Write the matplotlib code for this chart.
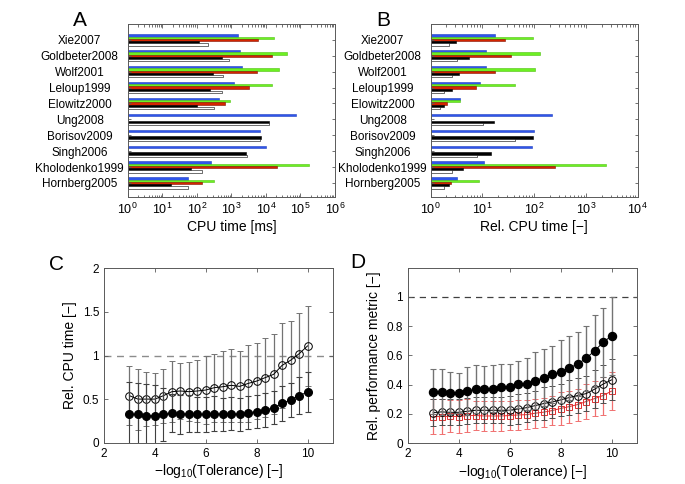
import numpy as np
import matplotlib
matplotlib.use('Agg')
import matplotlib.pyplot as plt
from matplotlib.ticker import LogLocator, NullFormatter

plt.rcParams['font.family'] = ['Liberation Sans', 'DejaVu Sans']
plt.rcParams['mathtext.fontset'] = 'custom'
plt.rcParams['mathtext.rm'] = 'Liberation Sans'
plt.rcParams['mathtext.it'] = 'Liberation Sans:italic'
plt.rcParams['mathtext.default'] = 'regular'

# ---------------- data ----------------
categories = ['Xie2007', 'Goldbeter2008', 'Wolf2001', 'Leloup1999', 'Elowitz2000',
              'Ung2008', 'Borisov2009', 'Singh2006', 'Kholodenko1999', 'Hornberg2005']

cpu_blue = [1520, 1780, 2080, 1220, 439, 76000, 6600, 10300, 263, 57]
cpu_green = [17200, 40000, 24400, 14700, 895, 1, 1, 1, 173000, 309]
cpu_red = [6000, 15400, 5500, 3170, 643, 1, 1, 1, 20500, 144]
cpu_black = [115, 525, 295, 236, 103, 12500, 7350, 2660, 68, 18]
cpu_white = [215, 870, 562, 550, 309, 12000, 6740, 2830, 144, 55]

rel_blue = [17.3, 11.9, 11.7, 8.97, 3.73, 218, 98, 89.5, 10.6, 3.18]
rel_green = [93.5, 131, 102, 42, 3.73, 1, 1, 1, 2410, 8.58]
rel_red = [27, 35.2, 17.3, 7.4, 2.1, 1, 1, 1, 252, 2.43]
rel_black = [3.04, 5.5, 3.48, 2.62, 1.78, 16.7, 93.5, 14.6, 4.27, 2.23]
rel_white = [2.23, 3.18, 2.55, 1.83, 1.53, 10.4, 42, 7.74, 2.55, 1.83]

tol = [3.0, 3.333, 3.667, 4.0, 4.333, 4.667, 5.0, 5.333, 5.667, 6.0, 6.333,
       6.667, 7.0, 7.333, 7.667, 8.0, 8.333, 8.667, 9.0, 9.333, 9.667, 10.0]

c_open = [0.539, 0.50, 0.50, 0.50, 0.539, 0.585, 0.593, 0.585, 0.593, 0.604, 0.631,
          0.642, 0.658, 0.646, 0.68, 0.707, 0.746, 0.784, 0.887, 0.945, 1.02, 1.11]
c_open_err = [0.34, 0.35, 0.31, 0.30, 0.31, 0.35, 0.32, 0.34, 0.355, 0.39, 0.39,
              0.41, 0.42, 0.41, 0.44, 0.44, 0.45, 0.46, 0.49, 0.45, 0.47, 0.46]
c_fill = [0.325, 0.325, 0.31, 0.31, 0.325, 0.337, 0.325, 0.333, 0.325, 0.325, 0.333,
          0.325, 0.333, 0.325, 0.344, 0.356, 0.375, 0.40, 0.45, 0.49, 0.54, 0.58]
c_fill_err = [0.37, 0.36, 0.36, 0.35, 0.30, 0.22, 0.22, 0.21, 0.20, 0.20, 0.20,
              0.19, 0.19, 0.19, 0.19, 0.19, 0.19, 0.19, 0.20, 0.20, 0.21, 0.23]

d_fill = [0.352, 0.348, 0.341, 0.341, 0.355, 0.368, 0.368, 0.373, 0.38, 0.384, 0.403,
          0.405, 0.426, 0.448, 0.469, 0.487, 0.513, 0.540, 0.579, 0.631, 0.688, 0.734]
d_fill_err = [0.154, 0.158, 0.144, 0.137, 0.162, 0.163, 0.160, 0.162, 0.160, 0.159, 0.160,
              0.178, 0.194, 0.196, 0.197, 0.215, 0.220, 0.217, 0.222, 0.247, 0.236, 0.266]
d_open = [0.208, 0.213, 0.210, 0.210, 0.217, 0.224, 0.224, 0.224, 0.224, 0.224, 0.233,
          0.242, 0.256, 0.270, 0.281, 0.295, 0.311, 0.325, 0.338, 0.368, 0.403, 0.432]
d_open_err = [0.09, 0.09, 0.09, 0.09, 0.09, 0.09, 0.09, 0.09, 0.09, 0.10, 0.10,
              0.10, 0.10, 0.11, 0.11, 0.11, 0.12, 0.12, 0.12, 0.13, 0.13, 0.14]
d_red = [0.181, 0.181, 0.183, 0.181, 0.188, 0.188, 0.185, 0.185, 0.185, 0.188, 0.192,
         0.194, 0.204, 0.211, 0.222, 0.236, 0.249, 0.263, 0.284, 0.304, 0.325, 0.355]
d_red_err = [0.12, 0.12, 0.11, 0.11, 0.11, 0.10, 0.10, 0.10, 0.10, 0.10, 0.10,
             0.10, 0.10, 0.10, 0.10, 0.11, 0.11, 0.11, 0.12, 0.12, 0.13, 0.13]

bar_colors = ['#2f55ea', '#6cf022', '#d62400', '#000000', '#ffffff']
bar_edges = ['#2040c0', '#50c010', '#801000', '#000000', '#000000']

# ---------------- figure ----------------
fig = plt.figure(figsize=(6.85, 4.84), dpi=100)
W, H = 685.0, 484.0

def ax_px(l, t, r, b):
    return fig.add_axes([l / W, 1 - b / H, (r - l) / W, (b - t) / H])

axA = ax_px(127.7, 24, 335, 197.3)
axB = ax_px(430.7, 24, 637.7, 197.3)
axC = ax_px(104, 268.3, 333, 442.7)
axD = ax_px(407.7, 267.7, 637, 443)

spine_col = '0.35'
tick_fs = 8.5
lab_fs = 10


def style(ax):
    for s in ax.spines.values():
        s.set_color(spine_col)
        s.set_linewidth(0.7)
    ax.tick_params(which='both', direction='in', top=True, right=True,
                   color=spine_col, labelsize=tick_fs, width=0.6)
    ax.tick_params(which='major', length=3)
    ax.tick_params(which='minor', length=1.8)


def bars(ax, series, xmax, xlabel):
    ypos = np.arange(len(categories))
    h = 0.142
    offs = [-2 * h, -h, 0, h, 2 * h]
    for vals, col, ec, off in zip(series, bar_colors, bar_edges, offs):
        v = np.asarray(vals, dtype=float)
        ax.barh(ypos + off, v - 1.0, left=1.0, height=h, color=col,
                edgecolor=ec, linewidth=0.4)
    ax.set_xscale('log')
    ax.set_xlim(1, xmax)
    ax.set_ylim(9.9, -1.0)
    ax.set_yticks(ypos)
    ax.set_yticklabels(categories)
    ax.xaxis.set_major_locator(LogLocator(base=10, numticks=10))
    ax.xaxis.set_minor_locator(LogLocator(base=10, subs=np.arange(2, 10), numticks=20))
    ax.xaxis.set_minor_formatter(NullFormatter())
    style(ax)
    ax.tick_params(axis='x', which='major', labelsize=9)
    ax.tick_params(axis='y', which='major', pad=34.5, length=2.5)
    for lab in ax.get_yticklabels():
        lab.set_ha('center')
    ax.set_xlabel(xlabel, fontsize=lab_fs, labelpad=2)


bars(axA, [cpu_blue, cpu_green, cpu_red, cpu_black, cpu_white], 1e6, 'CPU time [ms]')
bars(axB, [rel_blue, rel_green, rel_red, rel_black, rel_white], 1e4, 'Rel. CPU time [−]')

# Panel C
axC.axhline(1, color='0.55', ls=(0, (5, 4)), lw=1.0, zorder=1)
axC.errorbar(tol, c_open, yerr=c_open_err, fmt='-o', color='k', lw=0.7, ms=5.5,
             mfc='none', mec='k', mew=0.7, ecolor='0.45', elinewidth=0.9,
             capsize=2.5, capthick=0.8, zorder=3)
axC.errorbar(tol, c_fill, yerr=c_fill_err, fmt='-o', color='k', lw=0.7, ms=5.5,
             mfc='k', mec='k', ecolor='0.25', elinewidth=0.8,
             capsize=2.5, capthick=0.8, zorder=4)
axC.set_xlim(2, 11)
axC.set_ylim(0, 2)
axC.set_xticks([2, 4, 6, 8, 10])
axC.set_yticks([0, 0.5, 1, 1.5, 2])
axC.set_yticklabels(['0', '0.5', '1', '1.5', '2'])
style(axC)
axC.set_xlabel(r'−log$_{10}$(Tolerance) [−]', fontsize=lab_fs, labelpad=2)
axC.set_ylabel('Rel. CPU time [−]', fontsize=lab_fs, labelpad=4)

# Panel D
axD.axhline(1, color='0.25', ls=(0, (5, 4)), lw=0.9, zorder=1)
axD.errorbar(tol, d_red, yerr=d_red_err, fmt='-s', color='#e03030', lw=0.7, ms=4.8,
             mfc='none', mec='#e03030', mew=0.7, ecolor='#f07070', elinewidth=0.9,
             capsize=2.5, capthick=0.8, zorder=2)
axD.errorbar(tol, d_open, yerr=d_open_err, fmt='-o', color='k', lw=0.7, ms=5.5,
             mfc='none', mec='k', mew=0.7, ecolor='0.3', elinewidth=0.8,
             capsize=2.5, capthick=0.8, zorder=3)
axD.errorbar(tol, d_fill, yerr=d_fill_err, fmt='-o', color='k', lw=0.7, ms=5.8,
             mfc='k', mec='k', ecolor='0.45', elinewidth=1.0,
             capsize=2.5, capthick=0.8, zorder=4)
axD.set_xlim(2, 11)
axD.set_ylim(0, 1.2)
axD.set_xticks([2, 4, 6, 8, 10])
axD.set_yticks([0, 0.2, 0.4, 0.6, 0.8, 1.0])
axD.set_yticklabels(['0', '0.2', '0.4', '0.6', '0.8', '1'])
style(axD)
axD.set_xlabel(r'−log$_{10}$(Tolerance) [−]', fontsize=lab_fs, labelpad=2)
axD.set_ylabel('Rel. performance metric [−]', fontsize=lab_fs, labelpad=4)

# Panel letters
for (px, py), letter in zip([(80, 20), (383, 20), (57, 265), (358, 263)], 'ABCD'):
    fig.text(px / W, 1 - py / H, letter, fontsize=15, ha='center', va='center')

fig.savefig('out.png', dpi=100)
